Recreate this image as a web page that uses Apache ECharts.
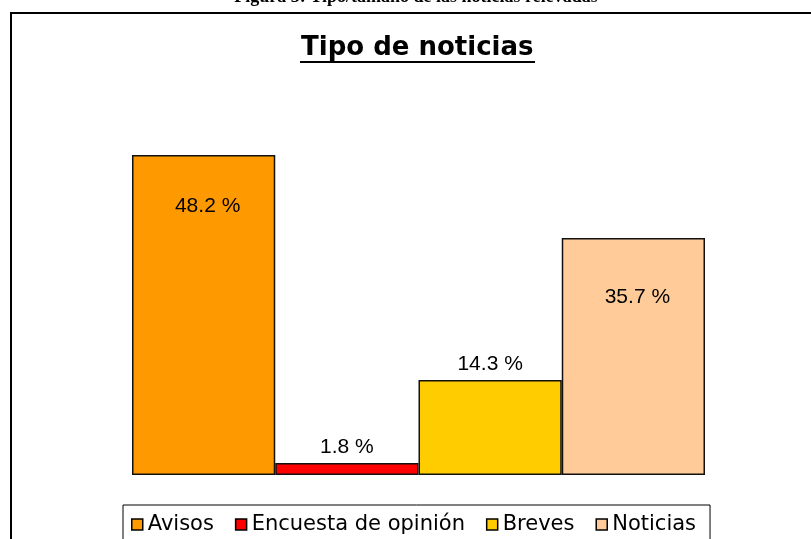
<!DOCTYPE html>
<html>
<head>
<meta charset="utf-8">
<script src="https://cdn.jsdelivr.net/npm/echarts@6/dist/echarts.min.js"></script>
<style>
  html, body { margin: 0; padding: 0; background: #fff; }
  #main { width: 811px; height: 539px; }
</style>
</head>
<body>
<div id="main"></div>
<script>
// datos
var categorias = ['Avisos', 'Encuesta de opinión', 'Breves', 'Noticias'];
var porcentajes = [48.2, 1.8, 14.3, 35.7];
var colores = ['#FF9900', '#FF0000', '#FFCC00', '#FFCC99'];
// etiquetas: dentro de la barra (las altas) o encima (las bajas)
var dentro = [true, false, false, true];
var distDentro = [41, 0, 0, 49];

var myChart = echarts.init(document.getElementById('main'));

var series = [];
for (var i = 0; i < categorias.length; i++) {
    series.push({
        name: categorias[i],
        type: 'bar',
        barGap: '0%',
        barCategoryGap: '0%',
        itemStyle: {
            color: colores[i],
            borderColor: '#111',
            borderWidth: 1.5
        },
        label: {
            show: true,
            position: dentro[i] ? 'insideTop' : 'top',
            distance: dentro[i] ? distDentro[i] : 5,
            offset: dentro[i] ? [4, 0] : [0, 0],
            formatter: function (p) { return p.value.toFixed(1) + ' %'; },
            color: '#000',
            fontFamily: 'Liberation Sans, Arial, sans-serif',
            fontSize: 21
        },
        data: [porcentajes[i]]
    });
}

var option = {
    animation: false,
    title: {
        text: 'Tipo de noticias',
        left: 301,
        top: 35,
        padding: 0,
        textStyle: {
            fontFamily: 'DejaVu Sans, Verdana, sans-serif',
            fontWeight: 'bold',
            fontSize: 26,
            color: '#000'
        }
    },
    legend: {
        data: categorias,
        left: 123,
        top: 505,
        icon: 'rect',
        itemWidth: 11,
        itemHeight: 11,
        itemGap: 21,
        padding: [9, 14, 9, 8],
        borderColor: '#000',
        borderWidth: 1,
        itemStyle: { borderWidth: 1.5, borderColor: '#000' },
        textStyle: {
            fontFamily: 'DejaVu Sans, Verdana, sans-serif',
            fontSize: 21,
            color: '#000'
        }
    },
    grid: {
        left: 132,
        right: 106,
        top: 143,
        bottom: 64
    },
    xAxis: {
        type: 'category',
        data: ['Tipo'],
        show: false
    },
    yAxis: {
        type: 'value',
        min: 0,
        max: 50,
        show: false
    },
    graphic: [
        {
            type: 'rect',
            shape: { x: 11, y: 13, width: 900, height: 600 },
            style: { fill: 'none', stroke: '#000', lineWidth: 2 },
            silent: true
        },
        {
            type: 'text',
            x: 416,
            y: 6,
            style: {
                text: 'Figura 3: Tipo/tamaño de las noticias relevadas',
                fill: '#000',
                font: 'bold 18px "Liberation Serif", "Times New Roman", serif',
                textAlign: 'center',
                textVerticalAlign: 'bottom'
            }
        },
        {
            type: 'line',
            shape: { x1: 300, y1: 62, x2: 535, y2: 62 },
            style: { stroke: '#000', lineWidth: 2 }
        }
    ],
    series: series
};

myChart.setOption(option);
</script>
</body>
</html>
